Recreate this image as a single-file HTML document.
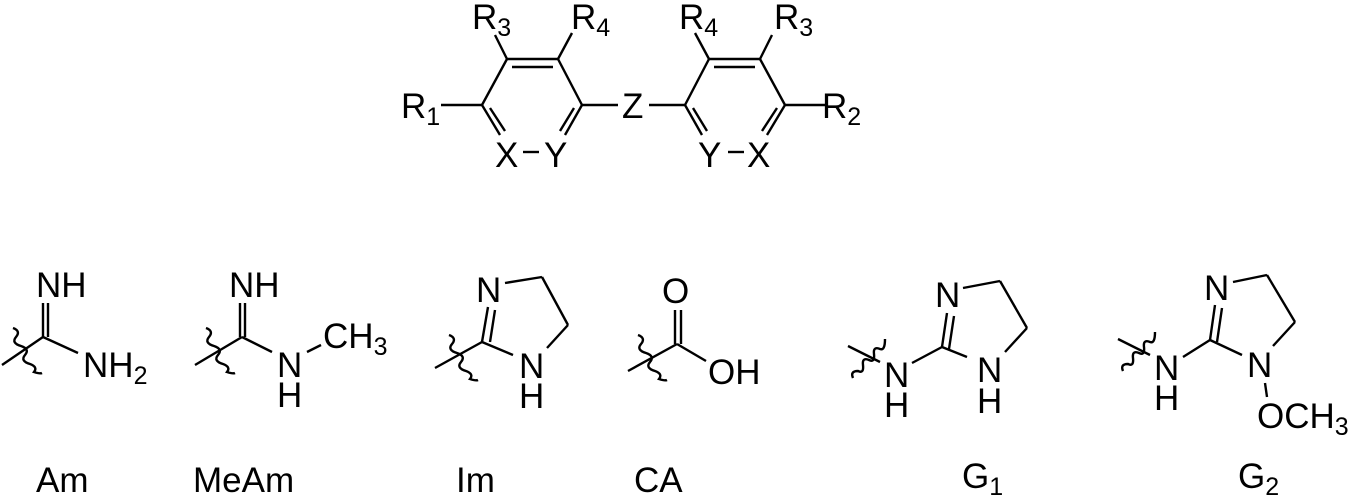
<!DOCTYPE html>
<html><head><meta charset="utf-8"><style>
html,body{margin:0;padding:0;background:#fff;}
svg{display:block;}
text{font-family:"Liberation Sans",Arial,sans-serif;font-size:35px;fill:#000;}
.s{font-size:25px;}
</style></head><body>
<svg width="1362" height="503" viewBox="0 0 1362 503">
<g stroke="#000" stroke-width="2.4" fill="none" stroke-linecap="butt">
<g id="ring">
<line x1="507" y1="59" x2="558" y2="59"/>
<line x1="512" y1="67" x2="553" y2="67"/>
<line x1="507" y1="59" x2="482" y2="105"/>
<line x1="558" y1="59" x2="582" y2="105"/>
<line x1="495" y1="35" x2="507" y2="59"/>
<line x1="572" y1="33" x2="558" y2="59"/>
<line x1="441" y1="105" x2="482" y2="105"/>
<line x1="582" y1="105" x2="618" y2="105"/>
<line x1="482" y1="105" x2="500" y2="135"/>
<line x1="490" y1="108" x2="505" y2="131"/>
<line x1="582" y1="105" x2="565" y2="135"/>
<line x1="574" y1="108" x2="560" y2="131"/>
<line x1="523" y1="152" x2="539" y2="152"/>
</g>
<use href="#ring" transform="translate(1267,0) scale(-1,1)"/>
<line x1="43" y1="337" x2="43" y2="303"/><line x1="48" y1="337" x2="48" y2="303"/>
<line x1="43" y1="337" x2="2" y2="365"/><line x1="43" y1="337" x2="78" y2="353"/>
<path d="M13 328 q8 3 3 9 q-5 6 5 9 q9 3 4 9 q-5 6 5 9 q8 3 4 8 q6 2 8 1"/>
<line x1="240" y1="337" x2="240" y2="303"/><line x1="245" y1="337" x2="245" y2="303"/>
<line x1="242" y1="337" x2="195" y2="365"/><line x1="242" y1="337" x2="272" y2="352"/>
<line x1="307" y1="352" x2="321" y2="345"/>
<path d="M206 328 q8 3 3 9 q-5 6 5 9 q9 3 4 9 q-5 6 5 9 q8 3 4 8 q6 2 8 1"/>
<line x1="482" y1="342" x2="488" y2="307"/><line x1="490" y1="342" x2="495" y2="310"/>
<line x1="505" y1="283" x2="542" y2="277"/><line x1="542" y1="277" x2="568" y2="325"/>
<line x1="568" y1="325" x2="547" y2="348"/><line x1="482" y1="342" x2="513" y2="355"/>
<line x1="482" y1="342" x2="435" y2="368"/>
<path d="M449 335 q8 3 3 9 q-5 6 5 9 q9 3 4 9 q-5 6 5 9 q8 3 4 8 q6 2 8 1"/>
<line x1="675" y1="344" x2="675" y2="310"/><line x1="681" y1="344" x2="681" y2="310"/>
<line x1="677" y1="344" x2="628" y2="371"/><line x1="677" y1="344" x2="706" y2="361"/>
<path d="M638 335 q8 3 3 9 q-5 6 5 9 q9 3 4 9 q-5 6 5 9 q8 3 4 8 q6 2 8 1"/>
<line x1="848" y1="346" x2="880" y2="362"/>
<path d="M853 378 q-3 -7 5 -7 q6 3 5 -6 q-1 -8 6 -5 q6 3 5 -6 q-1 -8 6 -5 q5 2 5 -10"/>
<line x1="912" y1="363" x2="942" y2="347"/>
<line x1="942" y1="347" x2="947" y2="313"/><line x1="949" y1="349" x2="954" y2="316"/>
<line x1="963" y1="288" x2="1000" y2="281"/><line x1="1000" y1="281" x2="1027" y2="328"/>
<line x1="1027" y1="328" x2="1005" y2="352"/><line x1="942" y1="347" x2="967" y2="357"/>
<line x1="1118" y1="339" x2="1150" y2="355"/>
<path d="M1123 371 q-3 -7 5 -7 q6 3 5 -6 q-1 -8 6 -5 q6 3 5 -6 q-1 -8 6 -5 q5 2 5 -10"/>
<line x1="1183" y1="357" x2="1210" y2="340"/>
<line x1="1210" y1="340" x2="1215" y2="305"/><line x1="1217" y1="342" x2="1222" y2="308"/>
<line x1="1233" y1="282" x2="1267" y2="275"/><line x1="1267" y1="275" x2="1295" y2="322"/>
<line x1="1295" y1="322" x2="1273" y2="346"/><line x1="1210" y1="340" x2="1242" y2="355"/>
<line x1="1265" y1="383" x2="1267" y2="397"/>
</g>
<text x="472" y="29">R<tspan class="s" dy="7">3</tspan></text>
<text x="571" y="29">R<tspan class="s" dy="7">4</tspan></text>
<text x="679" y="29">R<tspan class="s" dy="7">4</tspan></text>
<text x="774" y="29">R<tspan class="s" dy="7">3</tspan></text>
<text x="401" y="118">R<tspan class="s" dy="7">1</tspan></text>
<text x="822" y="118">R<tspan class="s" dy="7">2</tspan></text>
<text x="622" y="118">Z</text>
<text x="495" y="167">X</text><text x="544" y="167">Y</text>
<text x="698" y="167">Y</text><text x="747" y="167">X</text>
<text x="36" y="297">NH</text>
<text x="83" y="377">NH<tspan class="s" dy="7">2</tspan></text>
<text x="229" y="297">NH</text>
<text x="277" y="377">N</text><text x="277" y="407">H</text>
<text x="323" y="348">CH<tspan class="s" dy="7">3</tspan></text>
<text x="476" y="302">N</text>
<text x="519" y="378">N</text><text x="519" y="408">H</text>
<text x="662" y="303">O</text>
<text x="708" y="384">OH</text>
<text x="884" y="387">N</text><text x="884" y="417">H</text>
<text x="935" y="307">N</text>
<text x="977" y="382">N</text><text x="977" y="413">H</text>
<text x="1154" y="380">N</text><text x="1154" y="410">H</text>
<text x="1204" y="300">N</text>
<text x="1247" y="377">N</text>
<text x="1257" y="428">OCH<tspan class="s" dy="7">3</tspan></text>
<text x="36" y="492">Am</text>
<text x="193" y="492">MeAm</text>
<text x="456" y="492">Im</text>
<text x="634" y="492">CA</text>
<text x="962" y="488">G<tspan class="s" dy="7">1</tspan></text>
<text x="1238" y="488">G<tspan class="s" dy="7">2</tspan></text>
</svg>
</body></html>
